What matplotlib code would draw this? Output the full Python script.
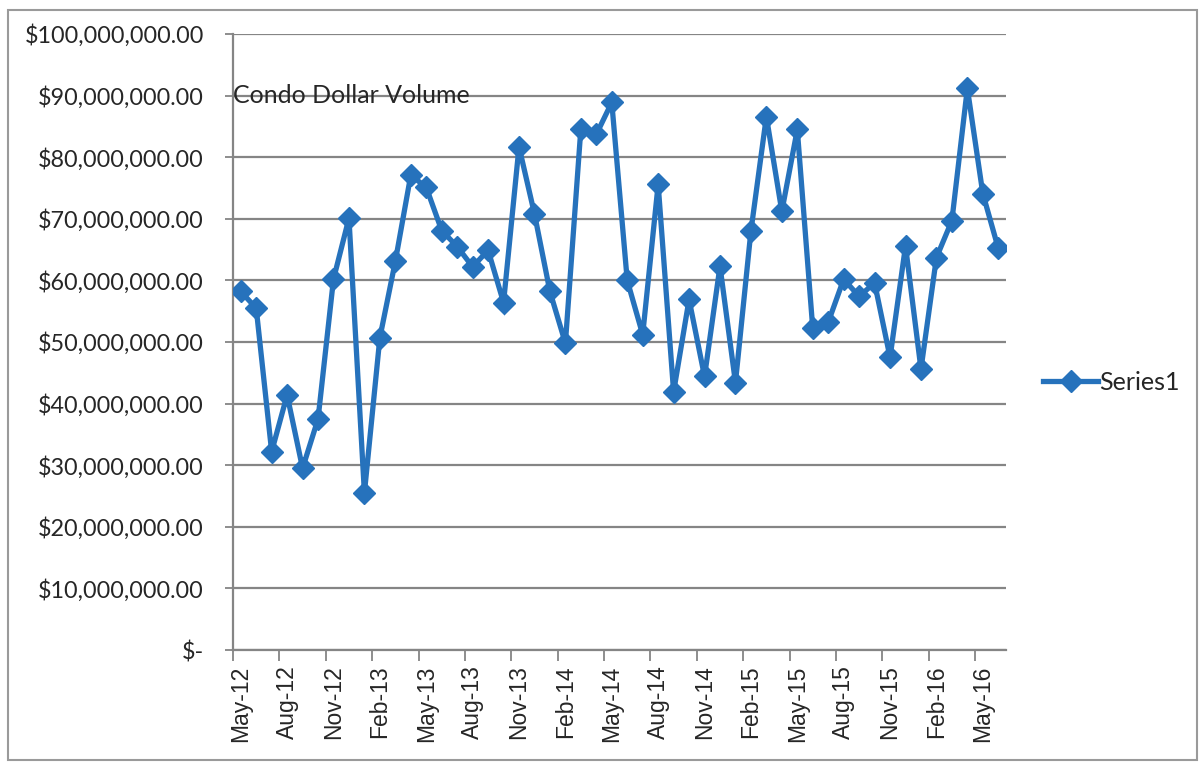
import matplotlib.pyplot as plt
import matplotlib.ticker as mticker
from matplotlib.patches import Rectangle

# ---------- Data ----------
# monthly condo dollar volume, May-12 .. Jun-16 (in $ millions)
volume_m = [58.2, 55.5, 32.2, 41.4, 29.5, 37.5, 60.2, 70.1, 25.5, 50.7,
            63.1, 77.1, 75.1, 68.1, 65.5, 62.2, 64.9, 56.4, 81.7, 70.8,
            58.2, 49.8, 84.6, 83.7, 88.9, 60.0, 51.2, 75.6, 41.9, 56.9,
            44.4, 62.3, 43.4, 68.0, 86.6, 71.2, 84.5, 52.2, 53.2, 60.2,
            57.4, 59.6, 47.5, 65.6, 45.6, 63.7, 69.7, 91.2, 74.1, 65.2]
tick_labels = ["May-12", "Aug-12", "Nov-12", "Feb-13", "May-13", "Aug-13",
               "Nov-13", "Feb-14", "May-14", "Aug-14", "Nov-14", "Feb-15",
               "May-15", "Aug-15", "Nov-15", "Feb-16", "May-16"]
label_step = 3
series_name = "Series1"
title = "Condo Dollar Volume"

volume = [v * 1e6 for v in volume_m]
x = list(range(len(volume)))

BLUE = "#2672BC"
GRID = "#858585"
TXT = "#262626"
calibri_like = ["Lato", "DejaVu Sans"]

# ---------- Figure ----------
fig = plt.figure(figsize=(12.04, 7.67), dpi=100)
fig.patches.append(Rectangle((8 / 1204, 1 - 760 / 767), 1189 / 1204, 750 / 767,
                             transform=fig.transFigure, fill=False,
                             edgecolor="#9a9a9a", lw=1.5))

ax = fig.add_axes([233 / 1204, 1 - 650 / 767, 773 / 1204, 616 / 767])
ax.plot(x, volume, color=BLUE, lw=3.8, marker="D", markersize=11.5,
        markerfacecolor=BLUE, markeredgecolor=BLUE, label=series_name,
        solid_joinstyle="miter", zorder=3)

ax.set_xlim(-0.5, len(volume) - 0.5)
ax.set_ylim(0, 100e6)

# y axis
ax.yaxis.set_major_locator(mticker.MultipleLocator(10e6))
ax.yaxis.set_major_formatter(mticker.FuncFormatter(
    lambda v, p: "$-" if v == 0 else f"${v:,.2f}"))
ax.tick_params(axis="y", length=6, width=1.3, color=GRID, pad=15,
               labelsize=16.8, labelcolor=TXT)
for t in ax.get_yticklabels():
    t.set_family(calibri_like)
ax.yaxis.grid(True, color=GRID, lw=1.6)
ax.set_axisbelow(True)

# x axis - labels every 3 months, ticks between categories
ax.set_xticks(x[::label_step])
ax.set_xticklabels(tick_labels, rotation=90, fontsize=16.5, color=TXT,
                   family="Liberation Sans")
ax.set_xticks([i - 0.5 for i in x[::label_step]], minor=True)
ax.tick_params(axis="x", which="major", length=0, pad=11)
ax.tick_params(axis="x", which="minor", length=8, width=1.3, color=GRID)

for s in ["top", "right"]:
    ax.spines[s].set_visible(False)
for s in ["left", "bottom"]:
    ax.spines[s].set_color(GRID)
    ax.spines[s].set_linewidth(1.6)

ax.text(0.0, 90e6, title, transform=ax.get_yaxis_transform(),
        ha="left", va="center", fontsize=18, color=TXT, family=calibri_like)

# ---------- Legend ----------
fig.legend(loc="center left", bbox_to_anchor=(1043 / 1204, 1 - 382 / 767),
           frameon=False, handlelength=2.2, handletextpad=0.05,
           borderpad=0, borderaxespad=0,
           prop={"family": calibri_like, "size": 18}, labelcolor=TXT)

plt.savefig("out.png", dpi=100)
